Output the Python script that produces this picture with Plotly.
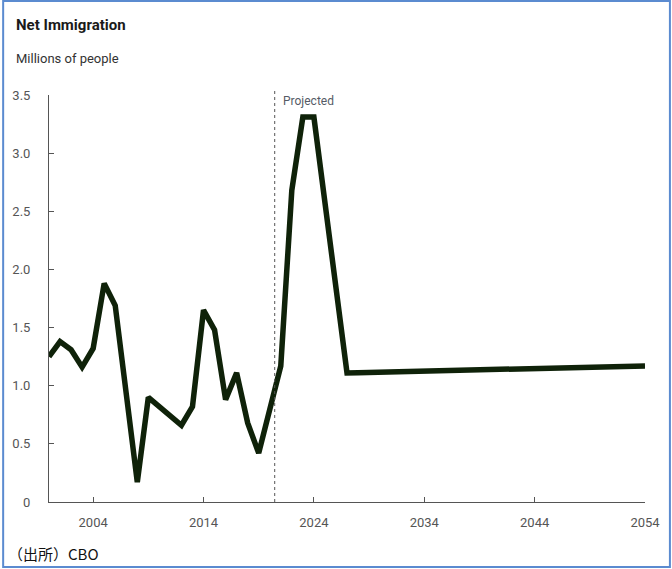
import plotly.graph_objects as go

# net immigration, millions of people (CBO); 2021 onward is projected
years = list(range(2000, 2055))
net_immigration = [
    1.25, 1.38, 1.31, 1.16, 1.32, 1.88, 1.69, 0.90, 0.17, 0.90,
    0.82, 0.74, 0.66, 0.82, 1.65, 1.48, 0.88, 1.11, 0.68, 0.42,
    0.79, 1.17, 2.68, 3.31, 3.31, 2.58, 1.85,
    1.110, 1.112, 1.114, 1.117, 1.119, 1.121, 1.123, 1.126, 1.128, 1.130,
    1.132, 1.134, 1.137, 1.139, 1.141, 1.143, 1.146, 1.148, 1.150, 1.152,
    1.154, 1.157, 1.159, 1.161, 1.163, 1.166, 1.168, 1.170,
]
projection_start = 2020.45
y_ticks = [0, 0.5, 1.0, 1.5, 2.0, 2.5, 3.0, 3.5]
y_tick_labels = ["0", "0.5", "1.0", "1.5", "2.0", "2.5", "3.0", "3.5"]
x_ticks = [2004, 2014, 2024, 2034, 2044, 2054]

W, H = 672, 569
L, R, T, B = 47, 27, 95, 67
pw, ph = W - L - R, H - T - B


def px(x):
    return (x - L) / pw


def py_(y):
    return 1 - (y - T) / ph


narrow = "Roboto, Arial"

fig = go.Figure()
fig.add_trace(go.Scatter(x=years, y=net_immigration, mode="lines",
                         line=dict(color="#0f2209", width=5.5),
                         hoverinfo="x+y", showlegend=False))

fig.add_shape(type="line", xref="x", yref="paper",
              x0=projection_start, x1=projection_start, y0=0, y1=1.01,
              line=dict(color="#555555", width=1, dash="dot"))
fig.add_annotation(text="Projected", xref="x", yref="paper",
                   x=projection_start + 0.6, y=py_(101), xanchor="left",
                   yanchor="middle", showarrow=False,
                   font=dict(family=narrow, size=12, color="#555b66"))

# outer blue frame
fig.add_shape(type="rect", xref="paper", yref="paper",
              x0=px(1), x1=px(W - 2), y0=py_(H - 2), y1=py_(1),
              line=dict(color="#5b8bd0", width=2), fillcolor="rgba(0,0,0,0)")

fig.add_annotation(text="<b>Net Immigration</b>", xref="paper", yref="paper",
                   x=px(12), y=py_(25), xanchor="left", yanchor="middle",
                   showarrow=False,
                   font=dict(family=narrow, size=15, color="#1a1a1a"))
fig.add_annotation(text="Millions of people", xref="paper", yref="paper",
                   x=px(12), y=py_(58), xanchor="left", yanchor="middle",
                   showarrow=False,
                   font=dict(family=narrow, size=13, color="#333333"))
fig.add_annotation(text="（出所）CBO", xref="paper", yref="paper",
                   x=px(4), y=py_(553), xanchor="left", yanchor="middle",
                   showarrow=False,
                   font=dict(family="Noto Sans CJK JP", size=15, color="#111111"))

fig.update_layout(
    width=W, height=H,
    margin=dict(l=L, r=R, t=T, b=B),
    paper_bgcolor="white", plot_bgcolor="white",
    xaxis=dict(range=[2000, 2054], tickvals=x_ticks, ticks="inside",
               ticklen=5, tickcolor="#555555", showline=True,
               linecolor="#555555", linewidth=1, showgrid=False,
               zeroline=False, fixedrange=True, ticklabelstandoff=8,
               tickfont=dict(family=narrow, size=13, color="#555555")),
    yaxis=dict(range=[0, 3.5], tickvals=y_ticks, ticktext=y_tick_labels,
               ticks="inside", ticklen=5, tickcolor="#555555", showline=True,
               linecolor="#555555", linewidth=1, showgrid=False,
               zeroline=False, fixedrange=True, ticklabelstandoff=15,
               tickfont=dict(family=narrow, size=13, color="#555555")),
)

fig.write_html("out.html", config={"displayModeBar": False},
               post_script="document.body.style.margin='0';")
